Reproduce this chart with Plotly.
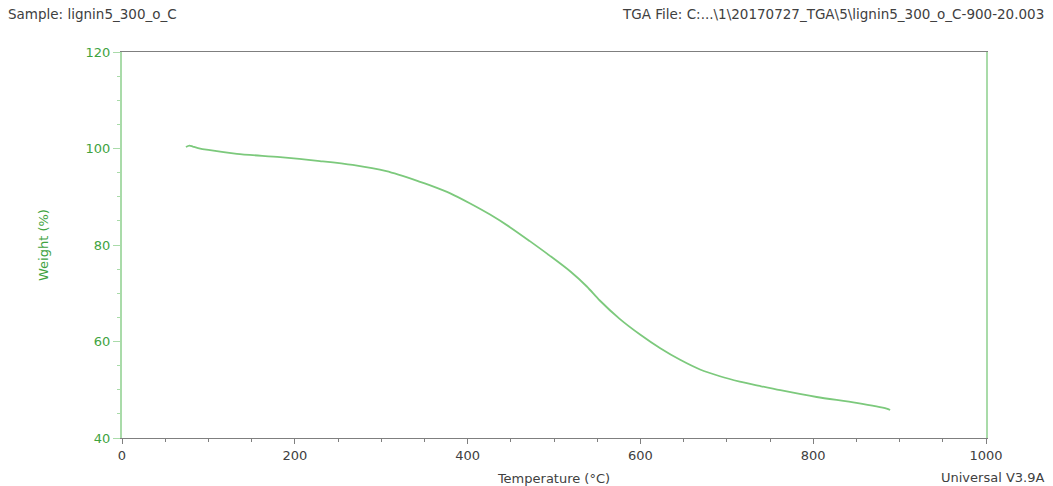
import plotly.graph_objects as go

temperature_c = [74, 78, 82, 88, 100, 133, 183, 229, 267, 306, 345, 356, 380, 403, 426,
                 449, 472, 495, 519, 538, 553, 576, 600, 623, 646, 669, 692, 715, 738,
                 762, 804, 850, 885, 889]
weight_pct = [100.3, 100.6, 100.4, 100.1, 99.7, 98.9, 98.2, 97.4, 96.6, 95.3, 93.1, 92.4,
              90.7, 88.6, 86.3, 83.7, 80.8, 77.8, 74.5, 71.4, 68.5, 64.7, 61.4, 58.6,
              56.2, 54.2, 52.8, 51.7, 50.8, 49.9, 48.5, 47.3, 46.1, 45.8]

x_ticks = [0, 200, 400, 600, 800, 1000]
y_ticks = [40, 60, 80, 100, 120]

sample_text = "Sample: lignin5_300_o_C"
file_text = "TGA File: C:...\\1\\20170727_TGA\\5\\lignin5_300_o_C-900-20.003"
version_text = "Universal V3.9A"

green_line = "#7cc97c"
green_axis = "#a9dba9"
green_text = "#3fa33f"
gray = "#7f7f7f"
dark = "#404040"
font_family = "DejaVu Sans, Liberation Sans, Arial, sans-serif"

fig = go.Figure()
fig.add_trace(go.Scatter(
    x=temperature_c, y=weight_pct, mode="lines",
    line=dict(color=green_line, width=1.8, shape="spline", smoothing=0.8),
    hoverinfo="skip", showlegend=False,
))

fig.update_layout(
    width=1053, height=486,
    margin=dict(l=122, r=67, t=52, b=48, autoexpand=False),
    paper_bgcolor="white", plot_bgcolor="white",
    font=dict(family=font_family, size=13, color=dark),
    xaxis=dict(
        range=[0, 1000], tickvals=x_ticks, ticktext=[str(v) for v in x_ticks],
        showgrid=False, zeroline=False, automargin=False,
        showline=True, linecolor=gray, linewidth=1, mirror=True,
        ticks="outside", ticklen=5, tickcolor=gray,
        minor=dict(dtick=50, ticks="outside", ticklen=3, tickcolor=gray, showgrid=False),
        tickfont=dict(size=13, color=dark),
        title=dict(text="Temperature (°C)", font=dict(size=13, color=dark), standoff=12),
    ),
    yaxis=dict(
        range=[40, 120], tickvals=y_ticks, ticktext=[str(v) for v in y_ticks],
        showgrid=False, zeroline=False, automargin=False,
        showline=True, linecolor=green_axis, linewidth=2, mirror=True,
        ticks="outside", ticklen=7, tickcolor=green_axis,
        minor=dict(dtick=5, ticks="outside", ticklen=3, tickcolor=green_axis, showgrid=False),
        tickfont=dict(size=13, color=green_text),
        title=dict(text="Weight (%)", font=dict(size=13, color=green_text), standoff=34),
    ),
    annotations=[
        dict(text=sample_text, xref="paper", yref="paper", x=-116/864, y=1 + 38/386,
             xanchor="left", yanchor="middle", showarrow=False,
             font=dict(size=13.5, color=dark)),
        dict(text=file_text, xref="paper", yref="paper", x=1 + 60/864, y=1 + 38/386,
             xanchor="right", yanchor="middle", showarrow=False,
             font=dict(size=13.5, color=dark)),
        dict(text=version_text, xref="paper", yref="paper", x=1 + 60/864, y=-40/386,
             xanchor="right", yanchor="middle", showarrow=False,
             font=dict(size=13, color=dark)),
    ],
)

fig.write_html("out.html", config={"displayModeBar": False},
               post_script="document.body.style.margin='0px';")
